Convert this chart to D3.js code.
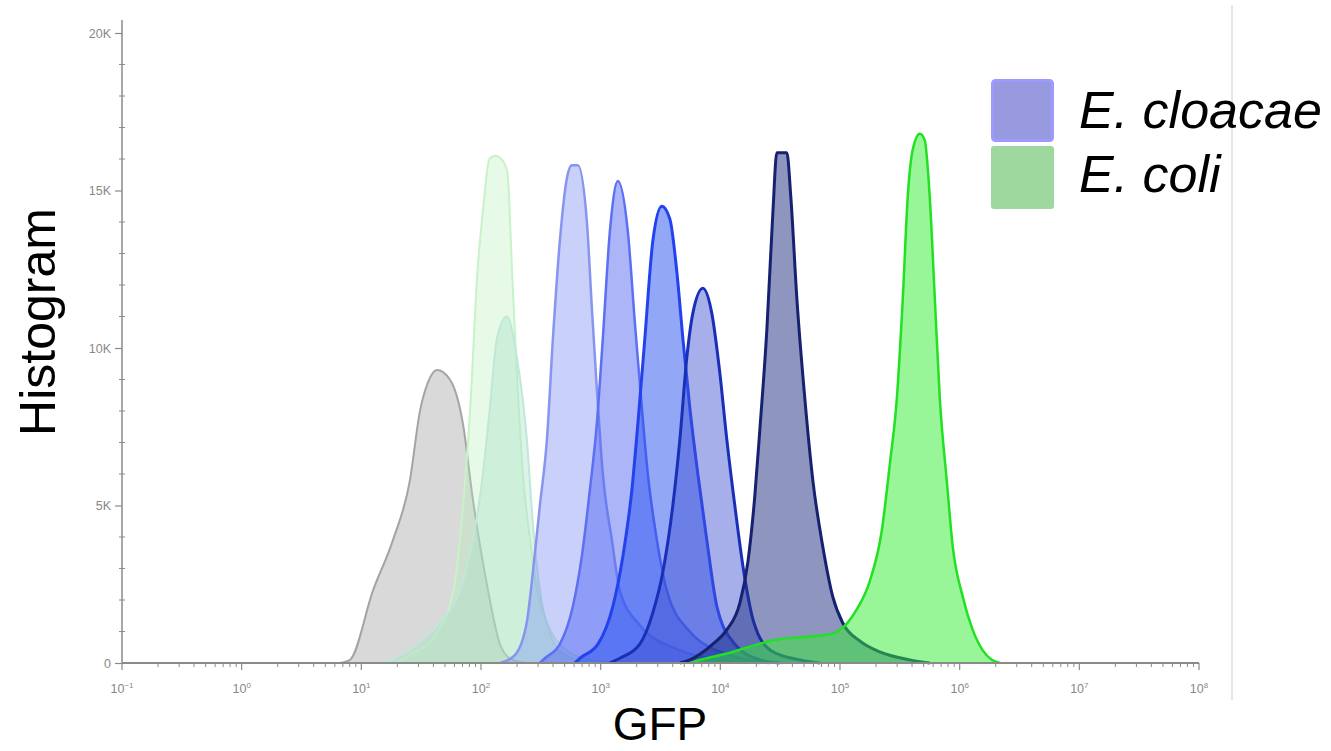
<!DOCTYPE html>
<html>
<head>
<meta charset="utf-8">
<script src="https://cdn.jsdelivr.net/npm/d3@7"></script>
<style>
  html, body { margin: 0; padding: 0; background: #fff; }
  svg { display: block; }
</style>
</head>
<body>
<svg id="chart" width="1331" height="751"></svg>
<script>
// ---------- DATA (log10 of GFP intensity, histogram count) ----------
const controlLog   = [0.82,0.905,1.097,1.264,1.406,1.49,1.556,1.632,1.74,1.849,1.932,2.049,2.158,2.241,2.367];
const controlCount = [0,100,2300,3900,5800,8000,8900,9300,9000,7600,5200,2500,600,150,0];

const coliLowLog   = [1.28,1.43,1.63,1.77,1.85,1.91,1.97,2.02,2.07,2.12,2.17,2.22,2.26,2.30,2.35,2.41,2.47,2.55,2.68,2.91,3.16];
const coliLowCount = [0,300,950,2300,5000,8100,12400,14500,16000,16100,16000,15600,12400,9200,6000,3900,2300,1300,500,100,0];

const cloacaeLowLog   = [1.197,1.431,1.657,1.824,1.932,2.016,2.074,2.133,2.216,2.30,2.383,2.434,2.492,2.576,2.684,2.91];
const cloacaeLowCount = [0,500,1300,2300,3900,6000,8100,10300,11000,9700,7100,4400,2300,950,300,0];

const cloacae1Log   = [2.158,2.283,2.383,2.434,2.492,2.551,2.601,2.659,2.718,2.759,2.81,2.885,2.926,2.968,3.018,3.094,3.16,3.327,3.662,3.996,4.33];
const cloacae1Count = [0,250,1300,2900,5000,7100,10300,13400,15400,15800,15800,14000,11300,8700,6000,3900,2300,1200,400,100,0];

const cloacae2Log   = [2.492,2.534,2.659,2.768,2.843,2.91,2.968,3.018,3.077,3.144,3.227,3.286,3.344,3.394,3.47,3.553,3.745,4.079,4.413];
const cloacae2Count = [0,150,600,1800,3400,5500,7600,10300,13700,15300,13700,10800,8100,6000,3900,2300,1000,250,0];

const cloacae3Log   = [2.784,2.826,2.977,3.102,3.186,3.261,3.311,3.369,3.436,3.511,3.578,3.637,3.687,3.745,3.812,3.887,3.971,4.121,4.33,4.497];
const cloacae3Count = [0,150,600,1800,3400,5500,7600,10300,13400,14500,14100,12400,10300,8100,6000,3900,1800,600,100,0];

const cloacae4Log   = [3.077,3.16,3.327,3.436,3.52,3.603,3.662,3.72,3.77,3.854,3.929,3.996,4.054,4.121,4.196,4.279,4.421,4.664,4.831];
const cloacae4Count = [0,150,600,1600,2900,5000,7100,9700,11100,11900,11100,9200,7100,5000,2900,1300,400,100,0];

const cloacae5Log   = [3.662,3.745,3.937,4.054,4.163,4.23,4.288,4.33,4.389,4.439,4.472,4.556,4.589,4.639,4.706,4.773,4.856,4.94,5.023,5.165,5.332,5.583,5.75];
const cloacae5Count = [0,100,600,1050,1900,3200,5300,7400,10600,14300,16200,16200,14800,11600,8400,5800,3700,2100,1270,700,350,100,0];

const coliHighLog   = [3.745,3.829,4.054,4.246,4.439,4.664,4.89,4.98,5.057,5.14,5.249,5.349,5.416,5.475,5.525,5.566,5.608,5.667,5.708,5.75,5.792,5.834,5.892,5.942,6.026,6.109,6.193,6.268,6.335];
const coliHighCount = [0,100,300,520,720,820,900,1000,1250,1700,2600,4200,6300,8400,11600,14800,16300,16800,16600,14800,11600,8400,5800,3700,2100,1050,400,100,0];

const yTickValues = [0, 5000, 10000, 15000, 20000];
const yTickLabels = ["0", "5K", "10K", "15K", "20K"];
const xDecades    = [-1, 0, 1, 2, 3, 4, 5, 6, 7, 8];
const legendLabels = ["E. cloacae", "E. coli"];
const xTitle = "GFP";
const yTitle = "Histogram";

// ---------- STYLES ----------
const series = [
  { log: controlLog,    count: controlCount,    fill: "rgba(170,170,170,0.45)", stroke: "#a4a4a4", sw: 2 },
  { log: coliLowLog,    count: coliLowCount,    fill: "rgba(180,240,180,0.32)", stroke: "#c8f2c8", sw: 2 },
  { log: cloacaeLowLog, count: cloacaeLowCount, fill: "rgba(170,225,200,0.40)", stroke: "#bfe8d8", sw: 2 },
  { log: cloacae1Log,   count: cloacae1Count,   fill: "rgba(120,140,245,0.40)", stroke: "#8795ef", sw: 2.5 },
  { log: cloacae2Log,   count: cloacae2Count,   fill: "rgba(80,100,240,0.48)",  stroke: "#5d6ff2", sw: 2.5 },
  { log: cloacae3Log,   count: cloacae3Count,   fill: "rgba(40,80,240,0.50)",   stroke: "#2242ee", sw: 3 },
  { log: cloacae4Log,   count: cloacae4Count,   fill: "rgba(60,80,210,0.46)",   stroke: "#1a2fb8", sw: 3 },
  { log: cloacae5Log,   count: cloacae5Count,   fill: "rgba(30,45,130,0.50)",   stroke: "#162270", sw: 3 },
  { log: coliHighLog,   count: coliHighCount,   fill: "rgba(50,235,50,0.50)",   stroke: "#22e022", sw: 2.5 }
];

const svg = d3.select("#chart");
svg.append("rect").attr("width", 1331).attr("height", 751).attr("fill", "#fff");

const x = d3.scaleLog().domain([0.1, 1e8]).range([122, 1199]);
const y = d3.scaleLinear().domain([0, 20000]).range([663, 33]);

// faint right border line
svg.append("line").attr("x1", 1232).attr("x2", 1232).attr("y1", 5).attr("y2", 700)
  .attr("stroke", "#e6e6e6").attr("stroke-width", 2);

// ---------- HISTOGRAMS ----------
const area = d3.area().x(d => x(Math.pow(10, d[0]))).y0(y(0)).y1(d => y(d[1])).curve(d3.curveMonotoneX);
const line = d3.line().x(d => x(Math.pow(10, d[0]))).y(d => y(d[1])).curve(d3.curveMonotoneX);

series.forEach(s => {
  const pts = s.log.map((v, i) => [v, s.count[i]]);
  svg.append("path").datum(pts).attr("d", area).attr("fill", s.fill).attr("stroke", "none");
  svg.append("path").datum(pts).attr("d", line).attr("fill", "none")
    .attr("stroke", s.stroke).attr("stroke-width", s.sw).attr("stroke-linejoin", "round");
});

// ---------- AXES ----------
const axisColor = "#8a8a8a";
const labelColor = "#888";

// y axis
const yAxis = svg.append("g").attr("transform", "translate(122,0)")
  .call(d3.axisLeft(y).tickValues(yTickValues).tickSize(7).tickPadding(4)
    .tickFormat((d, i) => yTickLabels[i]));
yAxis.select(".domain").remove();
yAxis.selectAll(".tick line").attr("stroke", axisColor).attr("stroke-width", 1.2);
yAxis.selectAll(".tick text").attr("fill", labelColor).attr("font-size", 12.5)
  .attr("font-family", "Liberation Sans, Arial, sans-serif");
svg.append("line").attr("x1", 122).attr("x2", 122).attr("y1", 20).attr("y2", 663)
  .attr("stroke", axisColor).attr("stroke-width", 1.5);
// y minor ticks
const yMinor = d3.range(1000, 20001, 1000).filter(v => v % 5000 !== 0);
svg.append("g").selectAll("line").data(yMinor).join("line")
  .attr("x1", 119).attr("x2", 125).attr("y1", d => y(d)).attr("y2", d => y(d))
  .attr("stroke", axisColor).attr("stroke-width", 1);

// x axis
svg.append("line").attr("x1", 122).attr("x2", 1199).attr("y1", 663).attr("y2", 663)
  .attr("stroke", axisColor).attr("stroke-width", 1.8);
const xMinor = x.ticks().filter(v => {
  const l = Math.log10(v);
  return Math.abs(l - Math.round(l)) > 1e-6;
});
svg.append("g").selectAll("line").data(xMinor).join("line")
  .attr("x1", d => x(d)).attr("x2", d => x(d)).attr("y1", 663).attr("y2", 667)
  .attr("stroke", axisColor).attr("stroke-width", 1);
const xMajor = svg.append("g").selectAll("g").data(xDecades).join("g")
  .attr("transform", d => `translate(${x(Math.pow(10, d))},663)`);
xMajor.append("line").attr("y1", 0).attr("y2", 7).attr("stroke", axisColor).attr("stroke-width", 1.2);
const xt = xMajor.append("text").attr("y", 30).attr("text-anchor", "middle")
  .attr("fill", labelColor).attr("font-size", 12.5)
  .attr("font-family", "Liberation Sans, Arial, sans-serif");
xt.append("tspan").text("10");
xt.append("tspan").attr("dy", -5).attr("font-size", 8).text(d => d < 0 ? "\u2212" + Math.abs(d) : d);

// axis titles
svg.append("text").attr("transform", "translate(55,322) rotate(-90)")
  .attr("text-anchor", "middle").attr("font-size", 50)
  .attr("font-family", "Liberation Sans, Arial, sans-serif").attr("fill", "#000").text(yTitle);
svg.append("text").attr("x", 660).attr("y", 740)
  .attr("text-anchor", "middle").attr("font-size", 46)
  .attr("font-family", "Liberation Sans, Arial, sans-serif").attr("fill", "#000").text(xTitle);

// ---------- LEGEND ----------
const legend = svg.append("g");
legend.append("rect").attr("x", 992.5).attr("y", 80.5).attr("width", 60).attr("height", 60).attr("rx", 3)
  .attr("fill", "#9999e0").attr("stroke", "#9b9bff").attr("stroke-width", 3);
legend.append("rect").attr("x", 991).attr("y", 146).attr("width", 63).attr("height", 63).attr("rx", 3)
  .attr("fill", "#9fd89f");
legend.append("text").attr("x", 1079).attr("y", 128).attr("font-size", 52).attr("font-style", "italic")
  .attr("font-family", "Liberation Sans, Arial, sans-serif").attr("fill", "#000").text(legendLabels[0]);
legend.append("text").attr("x", 1079).attr("y", 192).attr("font-size", 52).attr("font-style", "italic")
  .attr("font-family", "Liberation Sans, Arial, sans-serif").attr("fill", "#000").text(legendLabels[1]);
</script>
</body>
</html>
